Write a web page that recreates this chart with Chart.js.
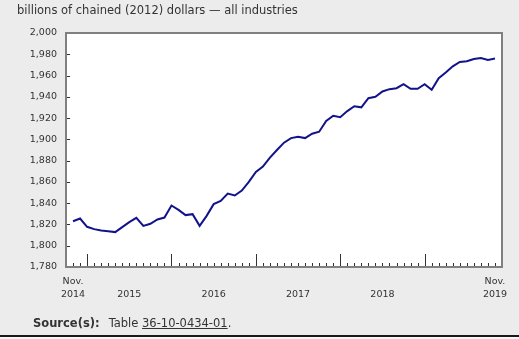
<!DOCTYPE html>
<html>
<head>
<meta charset="utf-8">
<script src="https://cdn.jsdelivr.net/npm/chart.js@4.4.1/dist/chart.umd.min.js"></script>
<style>
    html, body { margin: 0; padding: 0; }
    body {
        width: 519px; height: 339px; position: relative; overflow: hidden;
        background: #ececec; color: #333;
        font-family: "DejaVu Sans", Verdana, sans-serif;
    }
    #chart { position: absolute; left: 0; top: 0; }
    #title { position: absolute; left: 17px; top: 4px; font-size: 11.5px; line-height: 12px; white-space: nowrap; }
    #source { position: absolute; left: 33px; top: 317px; font-size: 11.5px; line-height: 12px; white-space: nowrap; }
    #source b { margin-right: 9px; }
    #source a { color: #333; text-decoration: underline; }
    #rule { position: absolute; left: 0; top: 335px; width: 519px; height: 2px; background: #1a1a1a; }
    #below { position: absolute; left: 0; top: 337px; width: 519px; height: 2px; background: #f7f7f7; }
</style>
</head>
<body>
<canvas id="chart" width="519" height="339"></canvas>
<div id="title">billions of chained (2012) dollars — all industries</div>
<div id="source"><b>Source(s):</b>Table <a href="#">36-10-0434-01</a>.</div>
<div id="rule"></div>
<div id="below"></div>
<script>
// mois de nov. 2014 a nov. 2019
var monthNames = ['Jan', 'Feb', 'Mar', 'Apr', 'May', 'Jun', 'Jul', 'Aug', 'Sep', 'Oct', 'Nov', 'Dec'];
var months = [];
for (var k = 0; k < 61; k++) {
    var m = (10 + k) % 12;
    var yr = 2014 + Math.floor((10 + k) / 12);
    months.push(monthNames[m] + ' ' + yr);
}

// PIB, toutes les industries (milliards de dollars enchaines de 2012)
var gdp = [
    1823.0, 1825.6,
    1817.8, 1815.6, 1814.4, 1813.7, 1812.8, 1817.5, 1822.2, 1826.2, 1818.7, 1820.6, 1824.7, 1826.5,
    1837.8, 1833.7, 1828.8, 1829.7, 1818.7, 1828.1, 1839.1, 1842.2, 1849.0, 1847.2, 1851.9, 1860.0,
    1869.4, 1874.4, 1882.8, 1890.0, 1896.9, 1901.2, 1902.5, 1901.2, 1905.3, 1907.2, 1917.2, 1922.2,
    1920.9, 1926.6, 1931.1, 1930.1, 1938.7, 1940.0, 1945.0, 1947.2, 1948.1, 1951.9, 1947.5, 1947.5,
    1951.9, 1946.6, 1957.5, 1962.8, 1968.7, 1972.8, 1973.4, 1975.6, 1976.5, 1974.7, 1976.0
];

var yTicks = [1780, 1800, 1820, 1840, 1860, 1880, 1900, 1920, 1940, 1960, 1980, 2000];
var yearLabels = ['2015', '2016', '2017', '2018'];
var firstLabel = ['Nov.', '2014'];
var lastLabel = ['Nov.', '2019'];

// fond blanc, bordure, petites marques et etiquettes de l'axe x
var axisDecor = {
    id: 'axisDecor',
    beforeDatasetsDraw: function (chart) {
        var ctx = chart.ctx, a = chart.chartArea;
        ctx.save();
        ctx.fillStyle = '#ffffff';
        ctx.fillRect(a.left, a.top, a.right - a.left, a.bottom - a.top);
        ctx.restore();
    },
    afterDraw: function (chart) {
        var ctx = chart.ctx, a = chart.chartArea;
        var x = chart.scales.x, y = chart.scales.y;
        ctx.save();
        ctx.strokeStyle = '#333';
        ctx.lineWidth = 1;
        ctx.beginPath();
        yTicks.forEach(function (v) {
            var py = Math.round(y.getPixelForValue(v)) + 0.5;
            ctx.moveTo(a.left, py);
            ctx.lineTo(a.left + 4, py);
        });
        months.forEach(function (m, i) {
            var px = Math.round(x.getPixelForValue(i)) + 0.5;
            var len = m.indexOf('Jan') === 0 ? 13 : 4;
            ctx.moveTo(px, a.bottom);
            ctx.lineTo(px, a.bottom - len);
        });
        ctx.stroke();

        ctx.strokeStyle = '#808080';
        ctx.lineWidth = 2;
        ctx.strokeRect(a.left, a.top, a.right - a.left, a.bottom - a.top);

        ctx.fillStyle = '#333';
        ctx.font = '9.5px "DejaVu Sans"';
        ctx.textAlign = 'center';
        ctx.textBaseline = 'middle';
        var x0 = x.getPixelForValue(0), x1 = x.getPixelForValue(months.length - 1);
        ctx.fillText(firstLabel[0], x0, a.bottom + 15);
        ctx.fillText(firstLabel[1], x0, a.bottom + 28);
        ctx.fillText(lastLabel[0], x1, a.bottom + 15);
        ctx.fillText(lastLabel[1], x1, a.bottom + 28);
        yearLabels.forEach(function (lab) {
            var jan = months.indexOf('Jan ' + lab);
            ctx.fillText(lab, x.getPixelForValue(jan + 6), a.bottom + 28);
        });
        ctx.restore();
    }
};

var ctx = document.getElementById('chart').getContext('2d');
var chart = new Chart(ctx, {
    type: 'line',
    data: {
        labels: months,
        datasets: [{
            label: 'All industries',
            data: gdp.map(function (v, i) { return { x: i, y: v }; }),
            borderColor: '#12128a',
            borderWidth: 2,
            pointRadius: 0,
            tension: 0,
            fill: false
        }]
    },
    options: {
        responsive: false,
        animation: false,
        layout: { padding: { left: 0, right: 17, top: 33, bottom: 72 } },
        plugins: {
            legend: { display: false },
            tooltip: { enabled: false }
        },
        scales: {
            x: {
                type: 'linear',
                display: false,
                min: -1,
                max: 61
            },
            y: {
                min: 1780,
                max: 2000,
                afterFit: function (scale) { scale.width = 66; },
                afterBuildTicks: function (scale) {
                    scale.ticks = yTicks.map(function (v) { return { value: v }; });
                },
                grid: { display: false, drawTicks: false },
                border: { display: false },
                ticks: {
                    padding: 9,
                    color: '#333',
                    font: { family: 'DejaVu Sans', size: 9.5 },
                    callback: function (v) { return v.toLocaleString('en-US'); }
                }
            }
        }
    },
    plugins: [axisDecor]
});
</script>
</body>
</html>
